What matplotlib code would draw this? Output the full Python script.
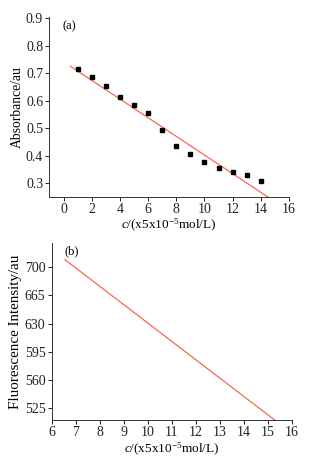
import matplotlib
matplotlib.use("Agg")
import matplotlib.pyplot as plt

# panel (a): absorbance vs concentration
conc = [1, 2, 3, 4, 5, 6, 7, 8, 9, 10, 11, 12, 13, 14]
absorbance = [0.715, 0.685, 0.652, 0.612, 0.583, 0.556, 0.495,
              0.435, 0.406, 0.377, 0.357, 0.341, 0.330, 0.307]
abs_fit_x = [0.5, 14.7]
abs_fit_y = [0.725, 0.243]

# panel (b): fluorescence fit line
fl_fit_x = [6.55, 15.4]
fl_fit_y = [709.5, 508.0]

xticks_a = [0, 2, 4, 6, 8, 10, 12, 14, 16]
yticks_a = [0.3, 0.4, 0.5, 0.6, 0.7, 0.8, 0.9]
xticks_b = [6, 7, 8, 9, 10, 11, 12, 13, 14, 15, 16]
yticks_b = [525, 560, 595, 630, 665, 700]

plt.rcParams['font.family'] = ['Liberation Serif', 'DejaVu Serif']
plt.rcParams['mathtext.fontset'] = 'custom'
plt.rcParams['mathtext.rm'] = 'Liberation Serif'
plt.rcParams['mathtext.it'] = 'Liberation Serif:italic'
plt.rcParams['font.size'] = 10

line_color = '#f26a4f'
xlabel = r"$c$/(x5x10$^{-5}$mol/L)"

fig = plt.figure(figsize=(3.23, 4.57), dpi=100)
ax1 = fig.add_axes([0.153, 0.569, 0.742, 0.394])
ax2 = fig.add_axes([0.160, 0.081, 0.743, 0.387])

for ax in (ax1, ax2):
    ax.spines['top'].set_visible(False)
    ax.spines['right'].set_visible(False)
    for s in ('left', 'bottom'):
        ax.spines[s].set_linewidth(0.7)
        ax.spines[s].set_color('#333333')
    ax.tick_params(direction='out', length=3, width=0.7, colors='#222222',
                   labelsize=10, pad=1.5)

ax1.plot(abs_fit_x, abs_fit_y, color=line_color, lw=0.9)
ax1.plot(conc, absorbance, 's', color='black', ms=3.0)
ax1.set_xlim(-1, 16)
ax1.set_ylim(0.25, 0.905)
ax1.set_xticks(xticks_a)
ax1.set_yticks(yticks_a)
ax1.set_yticklabels([f"{v:.1f}" for v in yticks_a])
ax1.set_xlabel(xlabel, fontsize=9.5)
ax1.xaxis.label.set_va('center')
ax1.xaxis.set_label_coords(0.5, -0.16)
ax1.set_ylabel("Absorbance/au", fontsize=9.8)
ax1.yaxis.label.set_va('center')
ax1.yaxis.set_label_coords(-0.135, 0.5)
ax1.text(0.056, 0.93, "(a)", transform=ax1.transAxes, fontsize=9)

ax2.plot(fl_fit_x, fl_fit_y, color=line_color, lw=0.9)
ax2.set_xlim(6, 16)
ax2.set_ylim(510.5, 730)
ax2.set_xticks(xticks_b)
ax2.set_yticks(yticks_b)
ax2.set_xlabel(xlabel, fontsize=9.5)
ax2.xaxis.label.set_va('center')
ax2.xaxis.set_label_coords(0.5, -0.165)
ax2.set_ylabel("Fluorescence Intensity/au", fontsize=10.8)
ax2.yaxis.label.set_va('center')
ax2.yaxis.set_label_coords(-0.15, 0.5)
ax2.text(0.055, 0.935, "(b)", transform=ax2.transAxes, fontsize=9)

fig.savefig("out.png", dpi=100)
